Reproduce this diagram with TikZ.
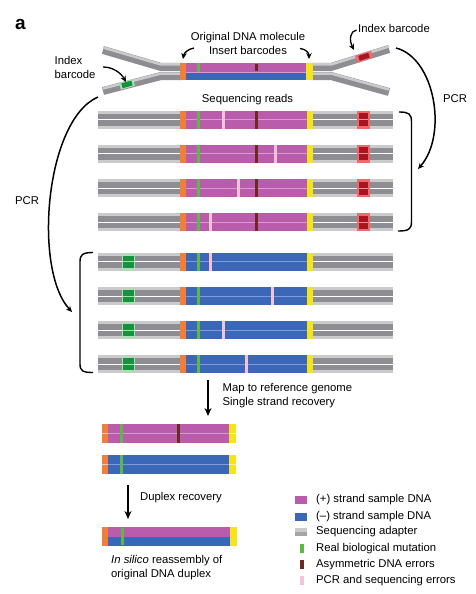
\documentclass[tikz,border=0pt]{standalone}
\usepackage{fontspec}
\setmainfont{Liberation Sans}
\usetikzlibrary{arrows.meta}
\definecolor{plus}{HTML}{B95CAB}
\definecolor{pluslight}{HTML}{D99BD0}
\definecolor{minus}{HTML}{3A67B8}
\definecolor{minuslight}{HTML}{7F9CD8}
\definecolor{orng}{HTML}{F07F3C}
\definecolor{yel}{HTML}{F4E41C}
\definecolor{mut}{HTML}{5CB84A}
\definecolor{asym}{HTML}{6B2B1F}
\definecolor{pcrerr}{HTML}{F4C3D9}
\definecolor{addark}{HTML}{8D8D93}
\definecolor{adlight}{HTML}{CBCBCB}
\definecolor{redbc}{HTML}{A8141F}
\definecolor{redhalo}{HTML}{EC6A6C}
\definecolor{grnbc}{HTML}{16923E}
\definecolor{grnhalo}{HTML}{A8E0B0}
\tikzset{
  lbl/.style={font=\fontsize{11.3}{13.5}\selectfont, inner sep=0pt, text height=8.2pt, text depth=2.4pt},
  ml/.style={font=\fontsize{11.3}{13.5}\selectfont, inner sep=0pt},
  bigarrow/.style={line width=1.6pt, -{Stealth[length=8pt,width=7pt]}},
  curvarrow/.style={line width=1.3pt, -{Stealth[length=6pt,width=5.5pt]}},
  brack/.style={line width=1.4pt},
}
\newcommand\basegray[1]{%
  \fill[adlight] (98,#1-9) rectangle (393,#1+9);
  \fill[addark] (98,#1-6) rectangle (393,#1+6);
  \draw[white, line width=0.6pt] (98,#1) -- (393,#1);
}
\newcommand\plusread[2]{%
  \basegray{#1}
  \fill[plus] (186,#1-9) rectangle (307,#1+9);
  \draw[pluslight, line width=0.6pt] (186,#1) -- (307,#1);
  \fill[orng] (180,#1-9) rectangle (186,#1+9);
  \fill[yel] (307,#1-9) rectangle (313,#1+9);
  \fill[mut] (197,#1-9) rectangle (200,#1+9);
  \fill[asym] (255,#1-9) rectangle (258,#1+9);
  \fill[pcrerr] (#2,#1-9) rectangle (#2+3,#1+9);
  \fill[redhalo] (357,#1-9) rectangle (370,#1+9);
  \fill[redbc] (359,#1-6.5) rectangle (368,#1+6.5);
  \draw[redhalo!70, line width=0.4pt] (359,#1) -- (368,#1);
}
\newcommand\minusread[2]{%
  \basegray{#1}
  \fill[minus] (186,#1-9) rectangle (307,#1+9);
  \draw[minuslight, line width=0.6pt] (186,#1) -- (307,#1);
  \fill[orng] (180,#1-9) rectangle (186,#1+9);
  \fill[yel] (307,#1-9) rectangle (313,#1+9);
  \fill[mut] (197,#1-9) rectangle (200,#1+9);
  \fill[pcrerr] (#2,#1-9) rectangle (#2+3,#1+9);
  \fill[grnhalo] (121.5,#1-7.5) rectangle (134.5,#1+8);
  \fill[grnbc] (122.5,#1-6) rectangle (134,#1+6);
  \draw[grnhalo, line width=0.4pt] (122.5,#1) -- (134,#1);
}
\begin{document}
\begin{tikzpicture}[x=1pt,y=-1pt]
\useasboundingbox (0,0) rectangle (476,594);
\fill[white] (0,0) rectangle (476,594);

% panel letter
\node[font=\fontsize{19}{20}\selectfont\bfseries, inner sep=0pt] (panel) at (20.5,24) {a};

% ---------- Y-shaped original molecule ----------
\begin{scope}[line join=miter]
\draw[addark, line width=8pt] (103,50) -- (161,67) -- (182,67);
\draw[adlight, line width=2.5pt] (103,47.5) -- (161,64.5) -- (182,64.5);
\draw[addark, line width=8pt] (103,91) -- (161,76) -- (182,76);
\draw[adlight, line width=2.5pt] (103,88.5) -- (161,73.5) -- (182,73.5);
\draw[addark, line width=8pt] (311,67) -- (331,67) -- (389,49);
\draw[adlight, line width=2.5pt] (311,64.5) -- (331,64.5) -- (389,46.5);
\draw[addark, line width=8pt] (311,76) -- (331,76) -- (389,92);
\draw[adlight, line width=2.5pt] (311,73.5) -- (331,73.5) -- (389,89.5);
\end{scope}
% barcodes on arms
\draw[grnhalo, line width=7pt] (120,86.3) -- (134,82.5);
\draw[grnbc, line width=5pt] (122,85.8) -- (132,83.0);
\draw[redhalo, line width=7pt] (356,59.2) -- (372,54.3);
\draw[redbc, line width=5pt] (359,58.3) -- (369,55.2);
% duplex
\fill[plus] (186,63) rectangle (307,71.5);
\fill[minus] (186,72) rectangle (307,80);
\draw[pluslight, line width=0.4pt] (186,71.7) -- (307,71.7);
\fill[orng] (180,63) rectangle (186,80);
\fill[yel] (306,63) rectangle (313,80);
\fill[mut] (197,63) rectangle (200,71.5);
\fill[asym] (254.5,64) rectangle (257.5,71);

% labels around molecule
\node[ml, align=center] (orig) at (248,43.5) {Original DNA molecule\\Insert barcodes};
\coordinate (insL) at (183,59);
\coordinate (insR) at (309,59);
\draw[curvarrow] (194,48) .. controls (188,49) and (184,53) .. (insL);
\draw[curvarrow] (300,48.5) .. controls (306,49) and (309,53) .. (insR);

\node[lbl, anchor=west] (idxR) at (358,30) {Index barcode};
\coordinate (idxRtip) at (354,50);
\draw[curvarrow] (356.5,30) .. controls (350,31) and (349,40) .. (idxRtip);

\node[ml, anchor=west, align=left] (idxL) at (54.5,67.5) {Index\\barcode};
\coordinate (idxLtip) at (126,82);
\draw[curvarrow] (103,67) .. controls (113,67) and (121,73) .. (idxLtip);

\node[lbl] (seqreads) at (247.5,99.5) {Sequencing reads};

% ---------- reads ----------
\plusread{119.5}{222}
\plusread{153.5}{274}
\plusread{188}{237}
\plusread{222}{209}

\minusread{261.5}{208.5}
\minusread{296}{271}
\minusread{330}{222}
\minusread{364}{245}

% brackets
\draw[brack] (399,112) .. controls (409,112) and (411.5,114) .. (411.5,122) -- (411.5,222) .. controls (411.5,229.5) and (408,231) .. (398,231);
\draw[brack] (93,252.5) .. controls (82,252.5) and (80,255) .. (80,262) -- (80,364) .. controls (80,371) and (83,372.5) .. (93,372.5);

% PCR arrows
\coordinate (pcrRs) at (396,48);
\coordinate (pcrRe) at (418,169);
\draw[curvarrow, line width=1.5pt] (pcrRs) .. controls (435,58) and (448,135) .. (pcrRe);
\node[lbl] (pcrR) at (455,100) {PCR};
\coordinate (pcrLs) at (98,97);
\coordinate (pcrLe) at (72,312);
\draw[curvarrow, line width=1.5pt] (pcrLs) .. controls (45,120) and (33,270) .. (pcrLe);
\node[lbl] (pcrL) at (27,202) {PCR};

% ---------- map / single strand ----------
\coordinate (mapS) at (208,380);
\coordinate (mapE) at (208,416);
\draw[bigarrow] (mapS) -- (mapE);
\node[ml, anchor=west, align=left] (maptxt) at (222.5,395.5) {Map to reference genome\\Single strand recovery};

% consensus plus strand
\fill[plus] (108,424) rectangle (229,443);
\draw[pluslight, line width=0.6pt] (108,433.5) -- (229,433.5);
\fill[orng] (102,424) rectangle (108,443);
\fill[yel] (229,424) rectangle (236,443);
\draw[white, line width=0.5pt, opacity=0.6] (102,433.5) -- (108,433.5) (229,433.5) -- (236,433.5);
\fill[mut] (120,424) rectangle (123,443);
\fill[asym] (177,424) rectangle (180,443);
% consensus minus strand
\fill[minus] (108,455) rectangle (229,474);
\draw[minuslight, line width=0.6pt] (108,464.5) -- (229,464.5);
\fill[orng] (102,455) rectangle (108,474);
\fill[yel] (229,455) rectangle (236,474);
\draw[white, line width=0.5pt, opacity=0.6] (102,464.5) -- (108,464.5) (229,464.5) -- (236,464.5);
\fill[mut] (120,455) rectangle (123,474);

% duplex recovery
\coordinate (dupS) at (128,485);
\coordinate (dupE) at (128,519);
\draw[bigarrow] (dupS) -- (dupE);
\node[lbl, anchor=west] (duptxt) at (140,498) {Duplex recovery};

% final duplex
\fill[plus] (108,527) rectangle (230,536.5);
\fill[minus] (108,536.5) rectangle (230,546);
\fill[orng] (102,527) rectangle (108,546);
\fill[yel] (230,527) rectangle (237,546);
\fill[mut] (120.5,528) rectangle (123.5,545);
\node[ml, anchor=west, align=left] (insilico) at (111,567.5) {\textit{In silico} reassembly of\\original DNA duplex};

% ---------- legend ----------
\fill[plus] (295,496) rectangle (307,504);
\node[lbl, anchor=west] (lg1) at (316,500) {(+) strand sample DNA};
\fill[minus] (295,513) rectangle (307,521);
\node[lbl, anchor=west] (lg2) at (316,517) {(--) strand sample DNA};
\fill[adlight] (295,528) rectangle (307,532);
\fill[addark!80] (295,532) rectangle (307,536);
\node[lbl, anchor=west] (lg3) at (316,532) {Sequencing adapter};
\fill[mut] (300,544) rectangle (303.5,553);
\node[lbl, anchor=west] (lg4) at (316,549) {Real biological mutation};
\fill[asym] (300,560) rectangle (303.5,569);
\node[lbl, anchor=west] (lg5) at (316,565) {Asymmetric DNA errors};
\fill[pcrerr] (300,576) rectangle (303.5,585);
\node[lbl, anchor=west] (lg6) at (316,581) {PCR and sequencing errors};
\end{tikzpicture}
\end{document}
